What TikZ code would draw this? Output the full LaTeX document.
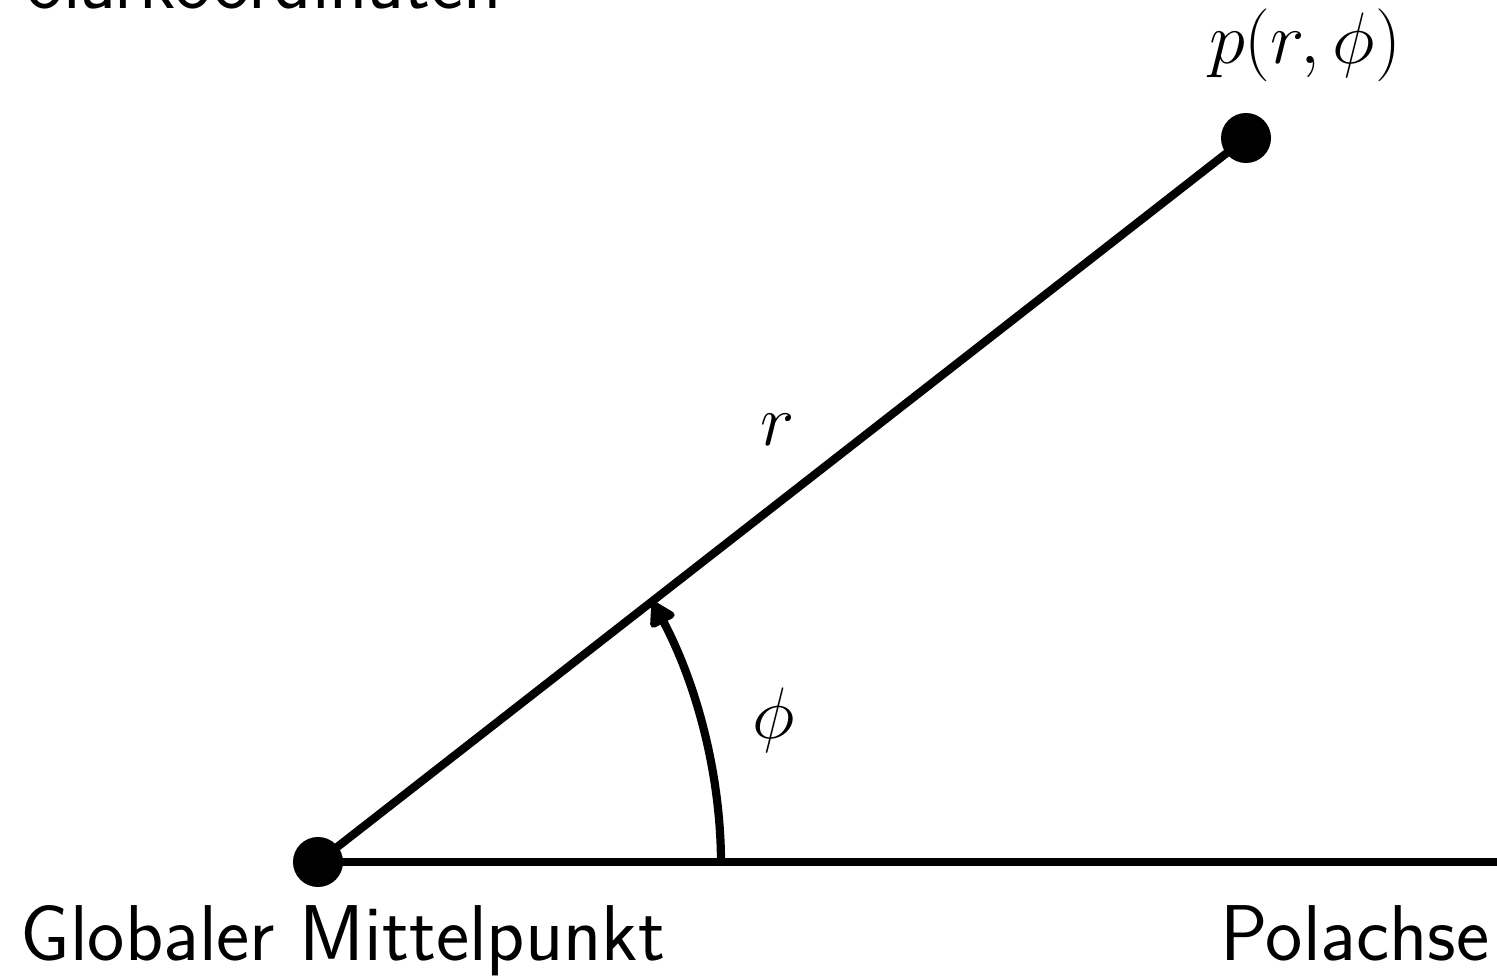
\documentclass[tikz,border=0pt]{standalone}
\usetikzlibrary{arrows.meta}
\begin{document}
\begin{tikzpicture}[x=0.01cm,y=-0.01cm,
  lbl/.style={font=\fontsize{22.5}{27}\selectfont\sffamily, inner sep=0pt},
  mlbl/.style={font=\fontsize{21.5}{26}\selectfont, inner sep=0pt},
  thick line/.style={line width=0.082cm},
  dot/.style={circle, fill=black, minimum size=0.5cm, inner sep=0pt}]
\useasboundingbox (0,0) rectangle (1497,976);
\clip (0,0) rectangle (1497,976);
\node[lbl, anchor=base west] (title) at (-20,9) {Polarkoordinaten};
\coordinate (O) at (318,862);
\coordinate (P) at (1246,138);
\coordinate (E) at (1510,862);
\coordinate (A) at (721,864);
\coordinate (B) at (653,602);
\draw[thick line] (O) -- (E);
\draw[thick line] (O) -- (P);
\draw[thick line, -{Triangle[round,length=0.27cm,width=0.3cm]}] (A) to[out=90,in=-62,looseness=0.86] (B);
\node[dot] (Od) at (O) {};
\node[dot] (Pd) at (P) {};
\node[mlbl] (pl) at (1305,45) {$p(r,\phi)$};
\node[mlbl] (rl) at (778,430) {$r$};
\node[mlbl] (phil) at (774,720) {$\phi$};
\node[lbl, anchor=base west] (gm) at (20,960) {Globaler Mittelpunkt};
\node[lbl, anchor=base east] (pa) at (1490,960) {Polachse};
\end{tikzpicture}
\end{document}
